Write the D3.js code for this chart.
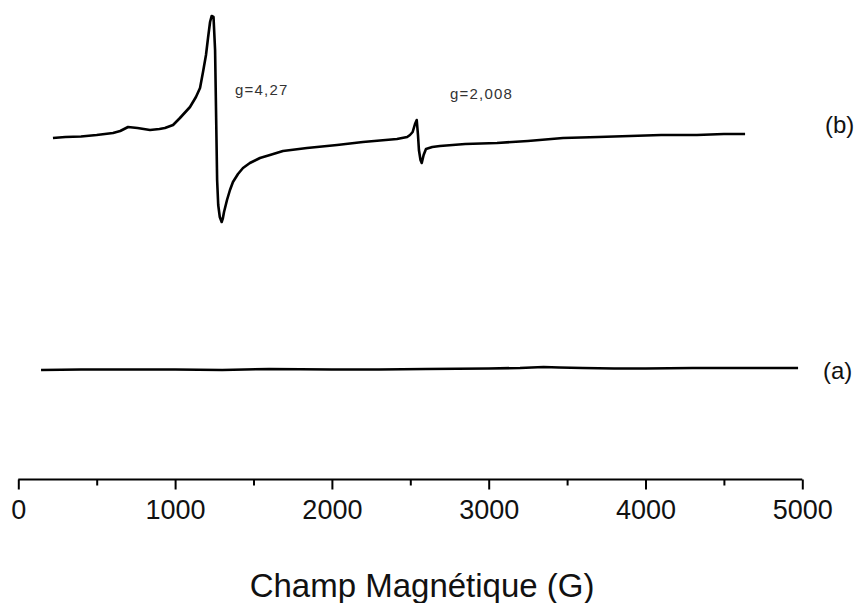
<!DOCTYPE html>
<html>
<head>
<meta charset="utf-8">
<script src="https://cdn.jsdelivr.net/npm/d3@7"></script>
<style>
  html, body { margin: 0; padding: 0; background: #fff; }
  svg { display: block; }
  text { font-family: "Liberation Sans", Arial, sans-serif; }
</style>
</head>
<body>
<svg id="chart" width="859" height="603"></svg>
<script>
// Magnetic field (G) of spectrum (b) and its intensity (arbitrary units)
const fieldB = [221, 300, 400, 500, 604, 650, 700, 760, 840, 900, 935, 987, 1031, 1095, 1133, 1159, 1178, 1197, 1210, 1223, 1233, 1245, 1255, 1262, 1268, 1275, 1285, 1297, 1305, 1312, 1331, 1350, 1369, 1401, 1433, 1477, 1541, 1605, 1688, 1841, 2033, 2198, 2415, 2480, 2498, 2515, 2530, 2541, 2549, 2555, 2565, 2573, 2585, 2600, 2640, 2689, 2850, 3053, 3250, 3474, 3700, 3901, 4100, 4328, 4500, 4635];
const signalB = [342, 343, 343.5, 345, 347, 349, 353, 352, 350, 351, 352, 355, 362, 373, 383, 392, 408, 425, 442, 458, 464, 463, 430, 360, 300, 275, 263, 258, 262, 268, 280, 290, 298, 306, 312, 317, 322, 325, 329, 332, 335, 338, 341, 343, 345, 348, 356, 360, 345, 330, 320, 317, 325, 331, 333, 334, 336, 337, 339, 342, 343, 344, 345, 345, 346, 346];

// Magnetic field (G) of spectrum (a) and its intensity (arbitrary units)
const fieldA = [145, 400, 700, 1000, 1300, 1600, 2000, 2300, 2600, 3000, 3200, 3350, 3450, 3600, 3800, 4000, 4300, 4600, 4800, 4973];
const signalA = [110, 110.5, 110.5, 110.5, 110, 111, 110.5, 110.5, 111, 111.5, 112, 113, 112.5, 112, 111.5, 111.5, 112, 112, 112, 112];

const xTicks = [0, 1000, 2000, 3000, 4000, 5000];
const xMinorTicks = [500, 1500, 2500, 3500, 4500];
const xTitle = "Champ Magnétique (G)";
const seriesLabels = ["(b)", "(a)"];
const annotations = [
  { text: "g=4,27", field: 1382, signal: 385 },
  { text: "g=2,008", field: 2753, signal: 381 }
];

const svg = d3.select("#chart");
const x = d3.scaleLinear().domain([0, 5000]).range([18.3, 802.3]);
const y = d3.scaleLinear().domain([0, 480]).range([480, 0]);

const line = d3.line().x((d) => x(d[0])).y((d) => y(d[1]));

svg.append("path")
  .datum(d3.zip(fieldB, signalB))
  .attr("d", line)
  .attr("fill", "none")
  .attr("stroke", "#000")
  .attr("stroke-width", 2.6)
  .attr("stroke-linejoin", "round");

svg.append("path")
  .datum(d3.zip(fieldA, signalA))
  .attr("d", line)
  .attr("fill", "none")
  .attr("stroke", "#000")
  .attr("stroke-width", 2.6)
  .attr("stroke-linejoin", "round");

// Axis
const axisG = svg.append("g").attr("transform", "translate(0,479.5)");
const axis = d3.axisBottom(x).tickValues(xTicks).tickSize(10).tickPadding(10).tickFormat(d3.format("d"));
axisG.call(axis);
axisG.select(".domain").attr("stroke", "#000").attr("stroke-width", 2).attr("d", `M${x(0)},0H${x(5000)}`);
axisG.selectAll(".tick line").attr("stroke", "#000").attr("stroke-width", 2);
axisG.selectAll(".tick text")
  .attr("font-size", 27)
  .attr("fill", "#111")
  .attr("font-family", "Liberation Sans, Arial, sans-serif");

const minorG = svg.append("g").attr("transform", "translate(0,479.5)");
minorG.call(d3.axisBottom(x).tickValues(xMinorTicks).tickSize(6).tickFormat(""));
minorG.select(".domain").remove();
minorG.selectAll(".tick line").attr("stroke", "#000").attr("stroke-width", 2);

// Title
svg.append("text")
  .attr("x", x(2575))
  .attr("y", 597)
  .attr("text-anchor", "middle")
  .attr("font-size", 33)
  .attr("fill", "#111")
  .text(xTitle);

// Series labels
svg.append("text").attr("x", 825).attr("y", 133).attr("font-size", 24).attr("fill", "#111").text(seriesLabels[0]);
svg.append("text").attr("x", 823).attr("y", 379).attr("font-size", 24).attr("fill", "#111").text(seriesLabels[1]);

// Annotations
svg.selectAll("text.ann")
  .data(annotations)
  .enter()
  .append("text")
  .attr("class", "ann")
  .attr("x", (d) => x(d.field))
  .attr("y", (d) => y(d.signal))
  .attr("font-size", 15)
  .attr("letter-spacing", 1.2)
  .attr("fill", "#333")
  .text((d) => d.text);
</script>
</body>
</html>
